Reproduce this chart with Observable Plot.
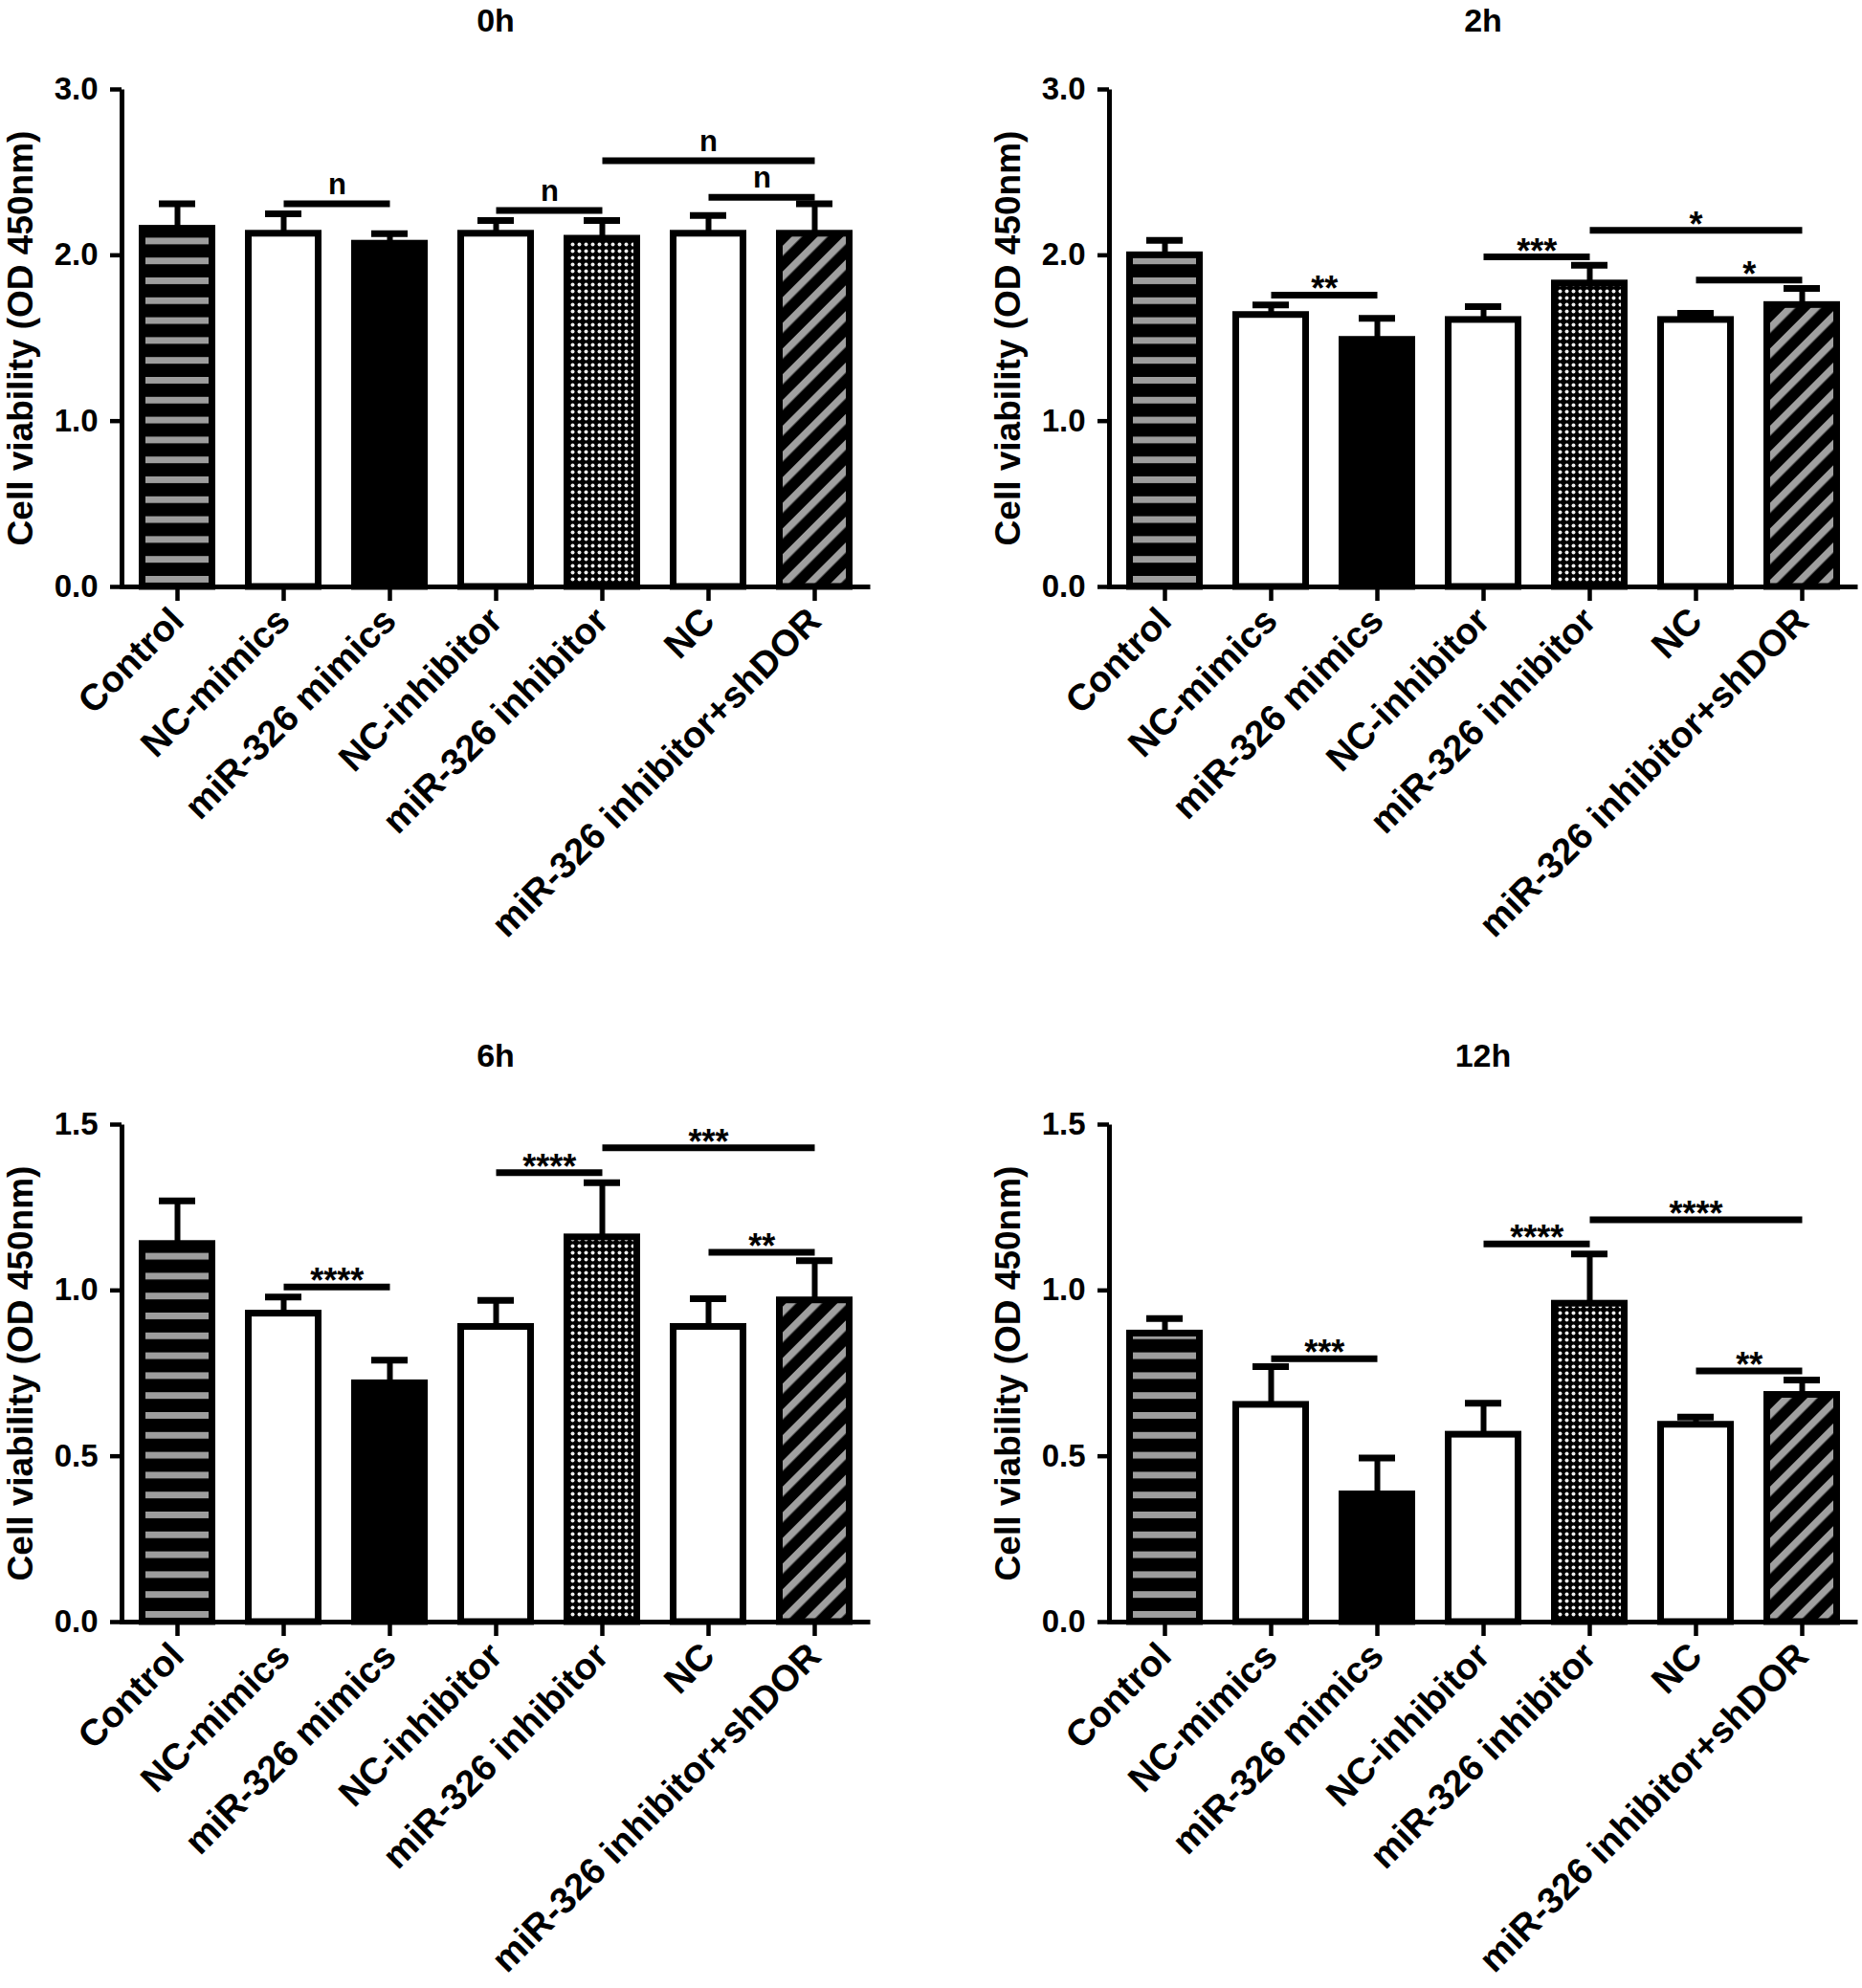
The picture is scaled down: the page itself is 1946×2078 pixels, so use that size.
<!DOCTYPE html>
<html><head><meta charset="utf-8">
<script src="https://cdn.jsdelivr.net/npm/d3@7"></script>
<script src="https://cdn.jsdelivr.net/npm/@observablehq/plot@0.6"></script>
<style>
html,body{margin:0;padding:0;background:#fff;}
#fig{position:relative;width:1946px;height:2078px;overflow:hidden;font-family:'Liberation Sans',Arial,Helvetica,sans-serif;font-weight:bold;color:#000;}
.panel{position:absolute;}
.title{position:absolute;text-align:center;font-size:34px;line-height:34px;font-weight:bold;}
</style></head><body><div id="fig"></div>
<script>
// ---------------- data ----------------
const categories = ["Control", "NC-mimics", "miR-326 mimics", "NC-inhibitor", "miR-326 inhibitor", "NC", "miR-326 inhibitor+shDOR"];
const yLabel = "Cell viability (OD 450nm)";

const mean0h  = [2.16, 2.13, 2.07, 2.13, 2.10, 2.13, 2.13];
const err0h   = [0.15, 0.12, 0.06, 0.08, 0.11, 0.11, 0.18];
const mean2h  = [2.00, 1.64, 1.49, 1.61, 1.83, 1.61, 1.70];
const err2h   = [0.09, 0.06, 0.13, 0.08, 0.11, 0.04, 0.10];
const mean6h  = [1.14, 0.93, 0.72, 0.89, 1.16, 0.89, 0.97];
const err6h   = [0.13, 0.05, 0.07, 0.08, 0.165, 0.085, 0.12];
const mean12h = [0.87, 0.655, 0.385, 0.565, 0.96, 0.595, 0.685];
const err12h  = [0.045, 0.115, 0.11, 0.095, 0.15, 0.023, 0.045];

const ticksEarly = [0, 1, 2, 3];
const ticksLate = [0, 0.5, 1, 1.5];

const bracketFrom = ["NC-mimics", "NC-inhibitor", "miR-326 inhibitor", "NC"];
const bracketTo   = ["miR-326 mimics", "miR-326 inhibitor", "miR-326 inhibitor+shDOR", "miR-326 inhibitor+shDOR"];
const bracketY0h  = [2.31, 2.27, 2.57, 2.35];
const bracketY2h  = [1.76, 1.99, 2.15, 1.85];
const bracketY6h  = [1.01, 1.355, 1.43, 1.115];
const bracketY12h = [0.794, 1.14, 1.213, 0.757];
const sig0h  = ["n", "n", "n", "n"];
const sig2h  = ["**", "***", "*", "*"];
const sig6h  = ["****", "****", "***", "**"];
const sig12h = ["***", "****", "****", "**"];

// ---------------- layout / style ----------------
const FONT = "'Liberation Sans', Arial, Helvetica, sans-serif";
const W = 914, H = 1000, ML = 127, MR = 5, MT = 93, MB = 387;
const PAD_IN = 0.3, PAD_OUT = 0.15;
const FW = W - ML - MR, FH = H - MT - MB;
const step = FW / (categories.length - PAD_IN + 2 * PAD_OUT);
const fillKind = ["pat-h", "white", "black", "white", "pat-c", "white", "pat-d"];

function addPatterns(svgNode, key) {
  const svg = d3.select(svgNode);
  const defs = svg.insert("defs", ":first-child");
  const base = H - MB;
  const ph = defs.append("pattern").attr("id", key + "-pat-h").attr("patternUnits", "userSpaceOnUse")
    .attr("x", 0).attr("y", base - 11).attr("width", 10).attr("height", 20.8);
  ph.append("rect").attr("width", 10).attr("height", 20.8).attr("fill", "#000");
  ph.append("rect").attr("y", 0).attr("width", 10).attr("height", 7).attr("fill", "#9d9d9d");
  const pc = defs.append("pattern").attr("id", key + "-pat-c").attr("patternUnits", "userSpaceOnUse")
    .attr("width", 7).attr("height", 7);
  pc.append("rect").attr("width", 7).attr("height", 7).attr("fill", "#000");
  pc.append("circle").attr("cx", 3.5).attr("cy", 3.5).attr("r", 2.0).attr("fill", "#eeeeee");
  const pd = defs.append("pattern").attr("id", key + "-pat-d").attr("patternUnits", "userSpaceOnUse")
    .attr("width", 19).attr("height", 19).attr("patternTransform", "rotate(45)");
  pd.append("rect").attr("width", 19).attr("height", 19).attr("fill", "#000");
  pd.append("rect").attr("x", 0).attr("width", 7.5).attr("height", 19).attr("fill", "#a0a0a0");
}

function panel(key, title, means, errs, ymax, yticks, bY, bLab, left, top) {
  const rows = categories.map((c, i) => ({cat: c, mean: means[i], err: errs[i], kind: fillKind[i]}));
  const idx = c => categories.indexOf(c);
  const br = bracketFrom.map((f, i) => ({from: f, to: bracketTo[i], y: bY[i], label: bLab[i]}));
  const evenBr = br.filter(b => (idx(b.to) - idx(b.from)) % 2 === 0);
  const oddBr = br.filter(b => (idx(b.to) - idx(b.from)) % 2 !== 0);
  const midCat = b => categories[Math.floor((idx(b.from) + idx(b.to)) / 2)];
  const isN = bLab[0] === "n";
  const labFont = isN ? 31 : 36;
  const labDy = isN ? -10 : 6;
  const fillOf = d => d.kind.startsWith("pat") ? `url(#${key}-${d.kind})` : d.kind;

  const plot = Plot.plot({
    width: W, height: H, marginLeft: ML, marginRight: MR, marginTop: MT, marginBottom: MB,
    style: {fontFamily: FONT, fontWeight: "bold", overflow: "visible", background: "transparent", color: "black"},
    x: {type: "band", domain: categories, paddingInner: PAD_IN, paddingOuter: PAD_OUT, align: 0.5, axis: null},
    y: {domain: [0, ymax], axis: null},
    color: {type: "identity"},
    marks: [
      Plot.ruleX(rows, {x: "cat", y1: "mean", y2: d => d.mean + d.err, stroke: "black", strokeWidth: 6}),
      Plot.barY(rows, {x: "cat", y: "mean", fill: fillOf, stroke: "black", strokeWidth: 7, insetLeft: 2.5, insetRight: 2.5}),
      Plot.tickY(rows, {x: "cat", y: d => d.mean + d.err, stroke: "black", strokeWidth: 7, insetLeft: 20, insetRight: 20}),
      Plot.frame({stroke: "black", strokeWidth: 5, strokeDasharray: `0 ${FW + FH} ${FW + FH}`}),
      Plot.axisY({ticks: yticks, tickFormat: d3.format(".1f"), tickSize: 12, tickPadding: 13, strokeWidth: 4.5, fontSize: 33, label: null}),
      Plot.axisX({tickSize: 15, tickRotate: -45, tickPadding: 14, fontSize: 38.5, strokeWidth: 4.5, label: null}),
      Plot.text([yLabel], {frameAnchor: "left", text: d => d, rotate: -90, textAnchor: "middle", dx: -105, fontSize: 37}),
      Plot.link(br, {x1: "from", x2: "to", y1: "y", y2: "y", stroke: "black", strokeWidth: 7}),
      Plot.text(evenBr, {x: midCat, y: "y", text: "label", lineAnchor: "bottom", dy: labDy, fontSize: labFont}),
      Plot.text(oddBr, {x: "from", y: "y", text: "label", lineAnchor: "bottom", dx: step / 2, dy: labDy, fontSize: labFont})
    ]
  });
  addPatterns(plot, key);
  const wrap = document.createElement("div");
  wrap.className = "panel";
  wrap.style.left = left + "px";
  wrap.style.top = top + "px";
  wrap.appendChild(plot);
  const fig = document.getElementById("fig");
  fig.appendChild(wrap);
  const t = document.createElement("div");
  t.className = "title";
  t.textContent = title;
  t.style.left = (left + ML) + "px";
  t.style.width = FW + "px";
  t.style.top = (top + 3.5) + "px";
  fig.appendChild(t);
}

panel("p0", "0h", mean0h, err0h, 3, ticksEarly, bracketY0h, sig0h, 0, 0);
panel("p2", "2h", mean2h, err2h, 3, ticksEarly, bracketY2h, sig2h, 1032, 0);
panel("p6", "6h", mean6h, err6h, 1.5, ticksLate, bracketY6h, sig6h, 0, 1082);
panel("p12", "12h", mean12h, err12h, 1.5, ticksLate, bracketY12h, sig12h, 1032, 1082);
</script>
</body></html>
